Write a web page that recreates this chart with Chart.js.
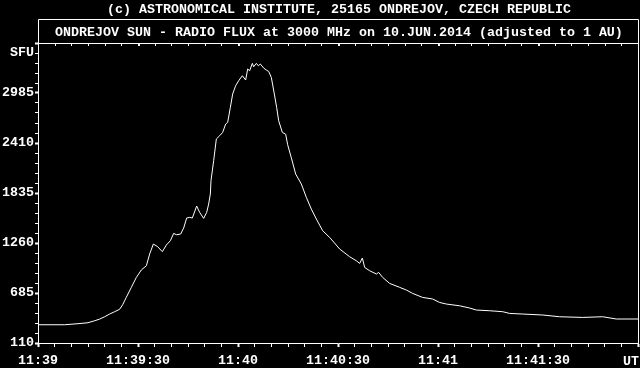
<!DOCTYPE html>
<html>
<head>
<meta charset="utf-8">
<script src="https://cdn.jsdelivr.net/npm/chart.js@4.4.0/dist/chart.umd.min.js"></script>
<style>
  html, body { margin: 0; padding: 0; background: #000; }
  #wrap { width: 640px; height: 368px; }
</style>
</head>
<body>
<div id="wrap"><canvas id="fluxChart" width="640" height="368"></canvas></div>
<script>
// seconds after 11:39:00 UT
const seconds = [
  0, 8, 12, 15, 17, 18.5, 20, 21.5, 23, 24.5, 25.4, 26.5, 28, 29.5, 31, 32.5, 33.5, 34.6,
  35.9, 37.3, 38.5, 39.7, 40.7, 41.6, 42.8, 43.7, 44.6, 45.5, 46.3, 47.6, 48.5, 49.7,
  50.6, 51.2, 51.7, 51.9, 52.7, 53.5, 54.5, 55.4, 56.3, 56.9, 57.7, 58.4, 59.3, 60.2,
  61.3, 62.3, 62.9, 63.5, 64.3, 64.7, 65.5, 66.1, 66.7, 67.7, 68.5, 69.2, 70, 70.9,
  71.6, 72.2, 73.3, 74.3, 74.9, 76, 77.3, 79, 80.5, 82, 83.5, 85.4, 87.5, 90.5, 93.5,
  95.5, 96.5, 97.3, 98, 99.5, 101.5, 102.2, 103.4, 105.5, 108.5, 110.5, 112.4, 115.4,
  118.4, 120.5, 122.5, 126.5, 129.5, 131.5, 135.5, 139.4, 141.5, 145.4, 151.4, 156.5,
  163.4, 169.4, 173.5, 180
];

// radio flux, SFU
const flux = [
  320, 320, 332, 343, 366, 385, 412, 443, 470, 498, 550, 636, 750, 864, 950, 998, 1133, 1248,
  1218, 1160, 1237, 1286, 1370, 1355, 1363, 1432, 1547, 1555, 1547, 1685, 1612, 1543,
  1612, 1708, 1823, 1977, 2207, 2456, 2494, 2532, 2628, 2647, 2819, 2973, 3069, 3126,
  3184, 3134, 3261, 3241, 3326, 3287, 3326, 3298, 3318, 3272, 3249, 3233, 3164, 2973,
  2819, 2666, 2532, 2511, 2390, 2240, 2053, 1938, 1785, 1650, 1536, 1401, 1324, 1191, 1102,
  1056, 1025, 1087, 979, 941, 903, 922, 864, 795, 750, 719, 680, 634,
  616, 576, 558, 538, 512, 489, 481, 470, 450, 443, 432, 412,
  404, 412, 386, 386
];

const yMin = 110;
const yMax = 3560;
const yStep = 115;
const yLabelEvery = 575;
const xLabels = ['11:39', '11:39:30', '11:40', '11:40:30', '11:41', '11:41:30'];

const header = '(c) ASTRONOMICAL INSTITUTE, 25165 ONDREJOV, CZECH REPUBLIC';
const title = 'ONDREJOV SUN - RADIO FLUX at 3000 MHz on 10.JUN.2014 (adjusted to 1 AU)';

const font = { family: 'Liberation Mono', size: 13.33, weight: 'bold' };

// frame, title box, top ticks and texts
const framePlugin = {
  id: 'frame',
  beforeDraw(chart) {
    const c = chart.ctx;
    c.save();
    c.fillStyle = '#000';
    c.fillRect(0, 0, chart.width, chart.height);
    c.restore();
  },
  afterDraw(chart) {
    const c = chart.ctx;
    const a = chart.chartArea;
    const x = chart.scales.x;
    c.save();
    c.strokeStyle = '#fff';
    c.lineWidth = 1;
    c.beginPath();
    c.moveTo(a.left + 0.5, 19.5);
    c.lineTo(a.right + 0.5, 19.5);
    c.lineTo(a.right + 0.5, a.bottom + 0.5);
    c.moveTo(a.left + 0.5, 19.5);
    c.lineTo(a.left + 0.5, a.top + 0.5);
    c.moveTo(a.left, a.top + 0.5);
    c.lineTo(a.right, a.top + 0.5);
    c.stroke();

    c.fillStyle = '#fff';
    for (let s = 5; s < 180; s += 5) {
      const px = Math.round(x.getPixelForValue(s));
      const w = s % 30 === 0 ? 2 : 1;
      c.fillRect(px, a.top + 1, w, 2);
    }

    c.font = `${font.weight} ${font.size}px "${font.family}"`;
    c.textBaseline = 'alphabetic';
    c.textAlign = 'left';
    c.fillText(header, 107, 13);
    c.fillText(title, 55, 36);
    c.textAlign = 'right';
    c.fillText('UT', 639, 365);
    c.restore();
  }
};

new Chart(document.getElementById('fluxChart'), {
  type: 'line',
  data: {
    datasets: [{
      data: seconds.map((s, i) => ({ x: s, y: flux[i] })),
      borderColor: '#fff',
      borderWidth: 1,
      pointRadius: 0,
      tension: 0,
      fill: false
    }]
  },
  options: {
    responsive: false,
    animation: false,
    layout: { padding: { top: 43, left: 0, right: 2, bottom: 0 } },
    plugins: {
      legend: { display: false },
      tooltip: { enabled: false }
    },
    scales: {
      x: {
        type: 'linear',
        min: 0,
        max: 180,
        afterFit: scale => {
          scale.height = 25;
          scale.paddingLeft = 0;
          scale.paddingRight = 0;
        },
        border: { display: true, color: '#fff', width: 1 },
        grid: {
          drawOnChartArea: false,
          tickLength: 4,
          tickColor: '#fff',
          tickWidth: ctx => (ctx.tick && ctx.tick.value % 30 === 0 ? 2 : 1)
        },
        ticks: {
          stepSize: 5,
          autoSkip: false,
          maxRotation: 0,
          padding: 6,
          color: '#fff',
          font: font,
          callback: v => (v % 30 === 0 && v < 180 ? xLabels[v / 30] : '')
        }
      },
      y: {
        min: yMin,
        max: yMax,
        afterFit: scale => {
          scale.width = 38;
          scale.paddingTop = 0;
          scale.paddingBottom = 0;
        },
        border: { display: true, color: '#fff', width: 1 },
        grid: {
          drawOnChartArea: false,
          tickLength: 3,
          tickColor: '#fff',
          tickWidth: ctx => (ctx.tick && Math.round(ctx.tick.value - yMin) % yLabelEvery === 0 ? 2 : 1)
        },
        ticks: {
          stepSize: yStep,
          autoSkip: false,
          padding: 1,
          color: '#fff',
          font: font,
          callback: v => {
            const k = Math.round((v - yMin) / yStep);
            if (k === 29) return 'SFU';
            if (v < yMax && Math.round(v - yMin) % yLabelEvery === 0) return String(v);
            return '';
          }
        }
      }
    }
  },
  plugins: [framePlugin]
});
</script>
</body>
</html>
